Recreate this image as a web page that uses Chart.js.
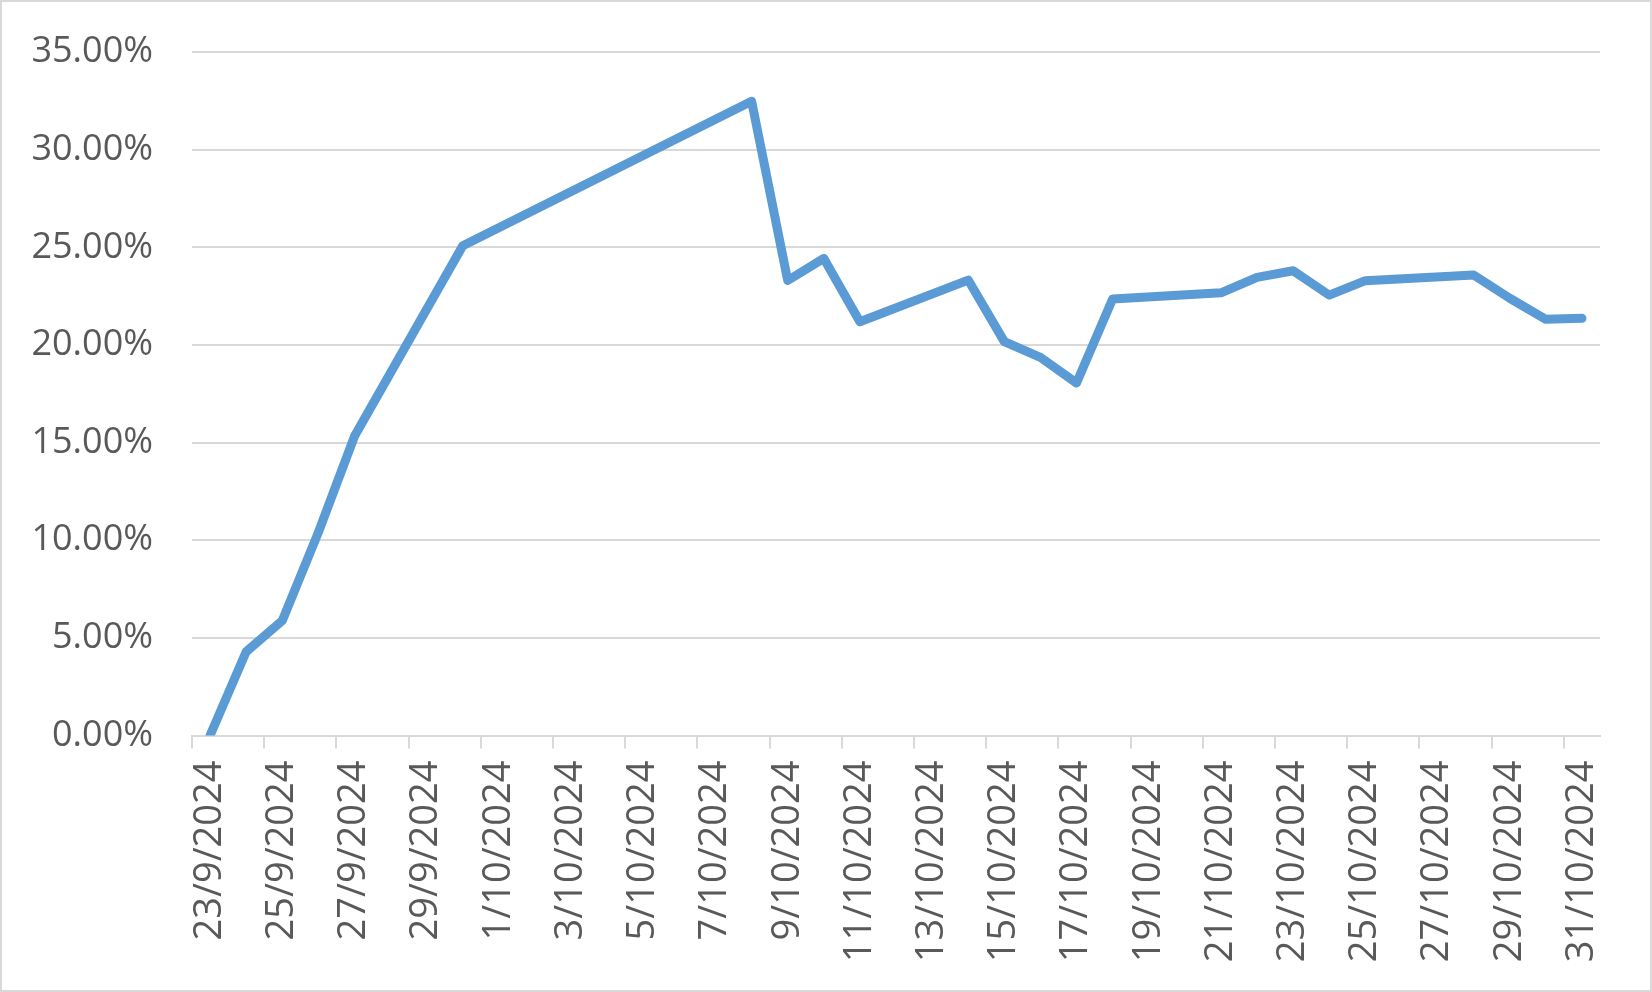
<!DOCTYPE html>
<html>
<head>
<meta charset="utf-8">
<script src="https://cdn.jsdelivr.net/npm/chart.js@4"></script>
<style>
  html, body { margin: 0; padding: 0; background: #fff; }
  #wrap { width: 1652px; height: 992px; box-sizing: border-box; border: 2px solid #d9d9d9; }
  canvas { display: block; }
</style>
</head>
<body>
<div id="wrap"><canvas id="myChart" width="1648" height="988"></canvas></div>
<script>
// every calendar day on the axis (Excel date axis)
const days = [
  '23/9/2024','24/9/2024','25/9/2024','26/9/2024','27/9/2024','28/9/2024','29/9/2024','30/9/2024',
  '1/10/2024','2/10/2024','3/10/2024','4/10/2024','5/10/2024','6/10/2024','7/10/2024','8/10/2024',
  '9/10/2024','10/10/2024','11/10/2024','12/10/2024','13/10/2024','14/10/2024','15/10/2024','16/10/2024',
  '17/10/2024','18/10/2024','19/10/2024','20/10/2024','21/10/2024','22/10/2024','23/10/2024','24/10/2024',
  '25/10/2024','26/10/2024','27/10/2024','28/10/2024','29/10/2024','30/10/2024','31/10/2024'
];

// trading days only, in percent
const tradeDays = [
  '23/9/2024','24/9/2024','25/9/2024','26/9/2024','27/9/2024','30/9/2024',
  '8/10/2024','9/10/2024','10/10/2024','11/10/2024','14/10/2024','15/10/2024','16/10/2024',
  '17/10/2024','18/10/2024','21/10/2024','22/10/2024','23/10/2024','24/10/2024','25/10/2024',
  '28/10/2024','29/10/2024','30/10/2024','31/10/2024'
];
const returns = [
  0.00, 4.29, 5.88, 10.40, 15.32, 25.08,
  32.48, 23.30, 24.43, 21.19, 23.32, 20.17, 19.36,
  18.05, 22.35, 22.67, 23.46, 23.80, 22.55, 23.29,
  23.58, 22.39, 21.31, 21.36
];

const yTicks = [0, 5, 10, 15, 20, 25, 30, 35];

const series = days.map(d => {
  const i = tradeDays.indexOf(d);
  return i >= 0 ? returns[i] : null;
});

const grey = '#d9d9d9';
const textGrey = '#595959';
Chart.defaults.font.family = '"Open Sans", "Noto Sans", sans-serif';
Chart.defaults.color = textGrey;

new Chart(document.getElementById('myChart').getContext('2d'), {
  type: 'line',
  data: {
    labels: days,
    datasets: [{
      data: series,
      borderColor: '#5b9bd5',
      borderWidth: 9,
      borderJoinStyle: 'round',
      borderCapStyle: 'round',
      pointRadius: 0,
      tension: 0,
      spanGaps: true,
      fill: false
    }]
  },
  options: {
    responsive: false,
    animation: false,
    events: [],
    layout: { padding: { top: 50, right: 50, left: 0, bottom: 0 } },
    plugins: { legend: { display: false }, tooltip: { enabled: false } },
    scales: {
      x: {
        type: 'category',
        offset: true,
        afterFit: s => { s.height = 254.5; },
        grid: {
          offset: true,
          drawOnChartArea: false,
          drawTicks: true,
          tickLength: 13,
          lineWidth: 2,
          color: ctx => (ctx.index !== undefined && ctx.index % 2 === 0) ? grey : 'rgba(0,0,0,0)'
        },
        border: { display: true, color: grey, width: 2 },
        ticks: {
          autoSkip: false,
          minRotation: 90,
          maxRotation: 90,
          padding: 12,
          font: { size: 38 },
          color: textGrey,
          callback: function (v, i) { return i % 2 === 0 ? this.getLabelForValue(v) : ''; }
        }
      },
      y: {
        min: 0,
        max: 35,
        afterFit: s => { s.width = 190; s.paddingTop = 0; s.paddingBottom = 0; },
        afterBuildTicks: s => { s.ticks = yTicks.map(v => ({ value: v })); },
        grid: { color: grey, lineWidth: 2, drawTicks: false },
        border: { display: false },
        ticks: {
          padding: 39,
          font: { size: 36 },
          color: textGrey,
          callback: v => v.toFixed(2) + '%'
        }
      }
    }
  }
});
</script>
</body>
</html>
